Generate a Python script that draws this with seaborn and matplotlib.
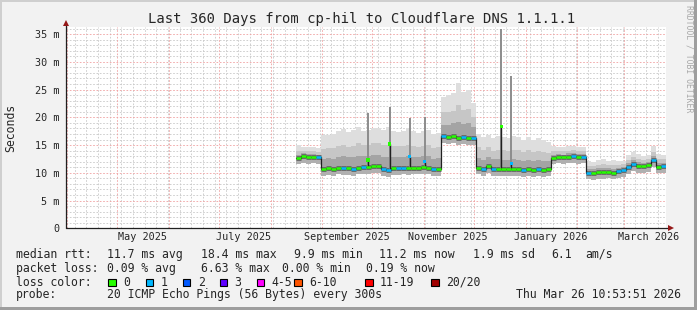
import numpy as np
import pandas as pd
import matplotlib
matplotlib.use("Agg")
import matplotlib.pyplot as plt
import matplotlib.dates as mdates
from matplotlib.ticker import MultipleLocator
from matplotlib.patches import Rectangle
import seaborn as sns

# ---------------- data ----------------
title = "Last 360 Days from cp-hil to Cloudflare DNS 1.1.1.1"
range_start = "2025-03-31 10:53:51"
range_end = "2026-03-26 10:53:51"
sample_start = "2025-08-17"
sample_every_days = 3

median_ms = [12.6, 13.0, 12.8, 12.9, 12.8, 10.6, 10.8, 10.6, 10.9, 10.8,
             10.8, 10.6, 10.9, 11.0, 11.0, 11.2, 11.2, 10.7, 10.5, 10.8,
             10.8, 10.9, 10.8, 10.9, 10.9, 11.0, 10.9, 10.6, 10.6, 16.7,
             16.4, 16.6, 16.3, 16.4, 16.3, 16.3, 10.9, 10.6, 11.2, 10.6,
             10.6, 10.6, 10.6, 10.7, 10.6, 10.5, 10.6, 10.5, 10.6, 10.5,
             10.7, 12.7, 12.9, 12.8, 12.9, 13.0, 12.8, 12.9, 10.0, 9.9,
             10.1, 10.1, 10.2, 10.0, 10.3, 10.5, 11.0, 11.6, 11.2, 11.2,
             11.4, 12.3, 11.1, 11.2]
loss_pings = [0, 0, 0, 0, 1, 0, 0, 0, 0, 1,
              0, 1, 0, 1, 0, 0, 0, 1, 1, 0,
              1, 1, 0, 0, 0, 0, 0, 1, 0, 1,
              0, 0, 0, 1, 0, 1, 0, 1, 0, 1,
              0, 0, 0, 0, 0, 1, 0, 0, 1, 0,
              0, 0, 0, 0, 0, 1, 0, 1, 1, 0,
              0, 0, 0, 0, 1, 1, 1, 1, 0, 0,
              0, 1, 0, 1]
max_ms = [15.0, 14.6, 14.7, 14.6, 14.5, 16.8, 16.9, 17.0, 17.6, 17.9,
          17.3, 17.8, 18.2, 17.6, 17.8, 18.0, 18.0, 17.8, 18.2, 17.6,
          17.4, 17.6, 18.0, 17.5, 17.2, 17.5, 17.8, 17.0, 17.2, 23.7,
          24.0, 24.3, 26.1, 24.5, 25.0, 22.5, 17.0, 16.5, 16.8, 16.3,
          16.6, 16.4, 16.2, 16.6, 16.5, 16.0, 16.4, 16.0, 16.2, 15.9,
          15.5, 14.8, 14.7, 14.6, 14.8, 14.9, 14.7, 14.6, 12.2, 12.0,
          12.3, 12.4, 12.2, 12.3, 12.1, 12.2, 13.2, 13.8, 13.4, 13.0,
          13.3, 14.8, 13.4, 13.2]
p90_ms = [14.0, 14.0, 13.9, 13.9, 13.8, 14.3, 14.5, 14.4, 14.9, 15.1,
          14.7, 14.9, 15.3, 15.0, 15.1, 15.3, 15.3, 15.0, 15.1, 14.9,
          14.8, 14.9, 15.1, 14.9, 14.7, 14.9, 15.0, 14.4, 14.6, 20.9,
          21.0, 21.2, 22.2, 21.3, 21.5, 20.0, 14.6, 14.1, 14.6, 14.0,
          14.2, 14.1, 14.0, 14.2, 14.1, 13.8, 14.1, 13.8, 14.0, 13.7,
          13.6, 14.0, 14.0, 13.9, 14.0, 14.1, 13.9, 13.9, 11.3, 11.2,
          11.4, 11.5, 11.4, 11.4, 11.4, 11.5, 12.3, 12.9, 12.5, 12.3,
          12.5, 13.8, 12.5, 12.4]
p75_ms = [13.3, 13.5, 13.4, 13.4, 13.3, 12.5, 12.6, 12.5, 12.9, 13.1,
          12.8, 12.8, 13.1, 13.0, 13.0, 13.2, 13.2, 12.9, 12.8, 12.8,
          12.8, 12.9, 13.0, 12.9, 12.8, 13.0, 13.0, 12.5, 12.6, 18.6,
          18.7, 18.9, 19.2, 18.8, 18.9, 18.2, 12.7, 12.3, 12.9, 12.4,
          12.4, 12.3, 12.3, 12.4, 12.3, 12.1, 12.3, 12.1, 12.3, 12.1,
          12.1, 13.3, 13.4, 13.3, 13.5, 13.6, 13.4, 13.4, 10.7, 10.6,
          10.8, 10.8, 10.8, 10.7, 10.8, 11.0, 11.7, 12.3, 11.9, 11.7,
          12.0, 13.1, 11.8, 11.8]
min_ms = [11.5, 11.8, 11.6, 11.7, 11.6, 9.4, 9.6, 9.4, 9.7, 9.6,
          9.6, 9.4, 9.7, 9.8, 9.8, 10.0, 10.0, 9.5, 9.3, 9.6,
          9.6, 9.7, 9.6, 9.7, 9.7, 9.8, 9.7, 9.4, 9.4, 15.4,
          15.2, 15.3, 15.1, 15.2, 15.1, 15.1, 9.7, 9.4, 10.0, 9.4,
          9.4, 9.4, 9.4, 9.5, 9.4, 9.3, 9.4, 9.3, 9.4, 9.3,
          9.5, 11.5, 11.7, 11.6, 11.7, 11.8, 11.6, 11.7, 8.8, 8.7,
          8.9, 8.9, 9.0, 8.8, 9.1, 9.3, 9.8, 10.4, 10.0, 10.0,
          10.2, 11.1, 9.9, 10.0]

spike_dates = ["2025-09-29", "2025-10-12", "2025-10-24", "2025-11-02",
               "2025-12-18", "2025-12-24"]
spike_max_ms = [20.7, 21.9, 19.8, 20.0, 36.0, 27.4]
spike_median_ms = [12.3, 15.2, 12.9, 12.0, 18.4, 11.7]
spike_loss = [0, 0, 1, 1, 0, 1]

y_ticks_ms = [0, 5, 10, 15, 20, 25, 30, 35]
y_tick_labels = ["0", "5 m", "10 m", "15 m", "20 m", "25 m", "30 m", "35 m"]
label_months = ["2025-05", "2025-07", "2025-09", "2025-11", "2026-01", "2026-03"]

loss_labels = ["0", "1", "2", "3", "4-5", "6-10", "11-19", "20/20"]
loss_colors = ["#26ff00", "#00b8ff", "#0059ff", "#5e00ff", "#ff00ff",
               "#ff5500", "#ff0000", "#a10000"]

rtt_items = ["median rtt:", "11.7 ms avg", "18.4 ms max", "9.9 ms min",
             "11.2 ms now", "1.9 ms sd", "6.1", "am/s"]
loss_items = ["packet loss:", "0.09 % avg", "6.63 % max", "0.00 % min",
              "0.19 % now"]
probe_items = ["probe:", "20 ICMP Echo Pings (56 Bytes) every 300s"]
timestamp = "Thu Mar 26 10:53:51 2026"
y_label = "Seconds"
watermark = "RRDTOOL / TOBI OETIKER"

# ---------------- style ----------------
sns.set_style("white")
plt.rcParams["font.family"] = ["DejaVu Sans Mono"]
BACK = "#f2f2f2"
GRID = "#c8c8c8"
MGRID = "#f0a0a0"
AXIS = "#202020"
ARROW = "#951818"
W, H = 697, 310

fig = plt.figure(figsize=(W / 100, H / 100), dpi=100, facecolor=BACK)
L, R, T, B = 65.5, 665.5, 27.1, 228.3
ax = fig.add_axes([L / W, 1 - B / H, (R - L) / W, (B - T) / H])
ax.set_facecolor("white")
for s in ax.spines.values():
    s.set_visible(False)

t0, t1 = pd.Timestamp(range_start), pd.Timestamp(range_end)
ax.set_xlim(t0, t1)
ax.set_ylim(0, 36.26)

# grid
ax.set_axisbelow(True)
ax.yaxis.set_minor_locator(MultipleLocator(1))
ax.xaxis.set_minor_locator(mdates.WeekdayLocator(byweekday=mdates.SU))
ax.grid(which="minor", color=GRID, ls=(0, (2, 2)), lw=0.6)
ax.grid(which="major", axis="y", color=MGRID, ls=(0, (2, 2)), lw=0.6)
ax.grid(which="major", axis="x", visible=False)
month_starts = pd.date_range(t0, t1, freq="MS")
ax.vlines(month_starts, 0, 1, transform=ax.get_xaxis_transform(),
          colors=MGRID, linestyles=(0, (2, 2)), lw=0.6, zorder=0.6)

# ticks
ax.set_yticks(y_ticks_ms)
ax.set_yticklabels(y_tick_labels)
mstarts = [pd.Timestamp(m + "-01") for m in label_months]
label_pos = [m + pd.Timedelta(days=m.days_in_month / 2) for m in mstarts]
ax.set_xticks(label_pos)
ax.set_xticklabels([m.strftime("%B %Y") for m in mstarts])
ax.tick_params(axis="y", which="major", length=2, width=0.8, color=AXIS,
               pad=2.4, labelsize=7.3)
ax.tick_params(axis="x", which="major", length=0, pad=3.0, labelsize=7.3)
ax.tick_params(which="minor", length=0)

# ---------------- smoke + median ----------------
dates = pd.date_range(sample_start, periods=len(median_ms),
                      freq=f"{sample_every_days}D")
xs = list(dates) + [t1]
xnum = mdates.date2num(xs)


def ext(a):
    return list(a) + [a[-1]]


ax.fill_between(xs, ext(min_ms), ext(max_ms), step="post", color="#dedede",
                lw=0, zorder=1)
ax.fill_between(xs, ext(median_ms), ext(p90_ms), step="post", color="#c6c6c6",
                lw=0, zorder=1.1)
ax.fill_between(xs, ext(median_ms), ext(p75_ms), step="post", color="#a4a4a4",
                lw=0, zorder=1.2)
ax.fill_between(xs, ext(min_ms), ext(median_ms), step="post", color="#b0b0b0",
                lw=0, zorder=1.2)
# dark core of the smoke around the median
ax.hlines(median_ms, xnum[:-1], xnum[1:], colors="#626262", lw=3.4, zorder=1.4)

# spikes (single-sample outliers)
sp_dt = pd.to_datetime(spike_dates)
base = pd.Series(median_ms, index=dates).reindex(sp_dt, method="ffill").values
ax.vlines(sp_dt, base, spike_max_ms, colors="#8c8c8c", lw=1.4, zorder=1.5)

step_df = pd.DataFrame({"t": xs, "ms": ext(median_ms)})
sns.lineplot(data=step_df, x="t", y="ms", drawstyle="steps-post",
             color="#202020", lw=0.9, ax=ax, zorder=4)
ax.vlines(sp_dt, base, spike_median_ms, colors="#202020", lw=1.0, zorder=4)

ax.hlines(median_ms, xnum[:-1], xnum[1:],
          colors=[loss_colors[v] for v in loss_pings], lw=1.8, zorder=5)
ax.scatter(sp_dt, spike_median_ms, marker="s", s=6, linewidths=0,
           c=[loss_colors[v] for v in spike_loss], zorder=6)

ax.set_xlabel("")
ax.set_ylabel("")

# axes lines + arrows
ax.plot([0, 0], [0, 1.012], transform=ax.transAxes, color=AXIS, lw=0.9,
        clip_on=False, zorder=7)
ax.plot([0, 1.006], [0, 0], transform=ax.transAxes, color=AXIS, lw=0.9,
        clip_on=False, zorder=7)
ax.plot([0], [1.018], marker="^", ms=4.2, color=ARROW, mew=0,
        transform=ax.transAxes, clip_on=False, zorder=8)
ax.plot([1.0085], [0], marker=">", ms=4.2, color=ARROW, mew=0,
        transform=ax.transAxes, clip_on=False, zorder=8)

# ---------------- texts ----------------
def fx(px):
    return px / W


def fy(py):
    return 1 - py / H


FS = 8.3
fig.text(fx(362), fy(19.5), title, ha="center", va="center", fontsize=10)
fig.text(fx(11), fy(127.5), y_label, rotation=90, ha="center", va="center",
         fontsize=FS)
fig.text(fx(689), fy(5), watermark, rotation=270, ha="center", va="top",
         fontsize=5.9, color="#a8a8a8")

baselines = [257.7, 271.7, 285.9, 298.4]
rtt_x = [16, 107.3, 201, 294, 379.3, 472.7, 551.7, 585]
for x, s in zip(rtt_x, rtt_items):
    fig.text(fx(x), fy(baselines[0]), s, ha="left", va="baseline", fontsize=FS)
loss_x = [16, 107.3, 201, 282, 366]
for x, s in zip(loss_x, loss_items):
    fig.text(fx(x), fy(baselines[1]), s, ha="left", va="baseline", fontsize=FS)
fig.text(fx(16), fy(baselines[2]), "loss color:", ha="left", va="baseline",
         fontsize=FS)
box_x = [108.3, 145.7, 182.7, 219.7, 256.7, 294.0, 365.0, 431.0]
for bx, lab, col in zip(box_x, loss_labels, loss_colors):
    fig.add_artist(Rectangle((fx(bx), fy(286.2)), 7.6 / W, 7.6 / H,
                             transform=fig.transFigure, facecolor=col,
                             edgecolor="black", lw=0.8))
    fig.text(fx(bx + 15), fy(baselines[2]), lab, ha="left", va="baseline",
             fontsize=FS)
probe_x = [16, 107.3]
for x, s in zip(probe_x, probe_items):
    fig.text(fx(x), fy(baselines[3]), s, ha="left", va="baseline", fontsize=FS)
fig.text(fx(680.5), fy(baselines[3]), timestamp, ha="right", va="baseline",
         fontsize=FS)

# frame shading
fig.add_artist(Rectangle((0, 1 - 2 / H), 1, 2 / H, transform=fig.transFigure,
                         color="#cfcfcf", lw=0))
fig.add_artist(Rectangle((0, 0), 2 / W, 1, transform=fig.transFigure,
                         color="#cfcfcf", lw=0))
fig.add_artist(Rectangle((0, 0), 1, 3 / H, transform=fig.transFigure,
                         color="#9e9e9e", lw=0))
fig.add_artist(Rectangle((1 - 3 / W, 0), 3 / W, 1, transform=fig.transFigure,
                         color="#9e9e9e", lw=0))

fig.savefig("out.png", dpi=100, facecolor=BACK)
